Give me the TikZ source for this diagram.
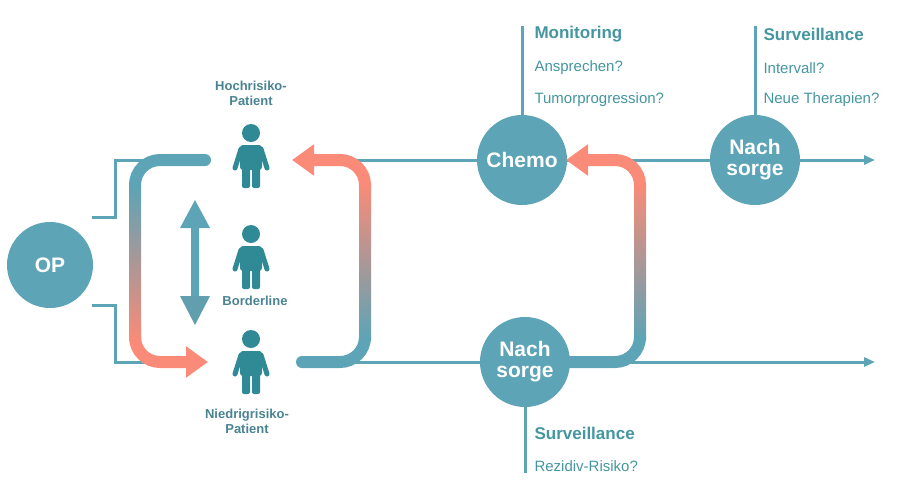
\documentclass[tikz,border=0pt]{standalone}
\usepackage{fontspec}
\setmainfont{Liberation Sans}
\usetikzlibrary{arrows.meta}
\definecolor{cTeal}{HTML}{5CA4B6}
\definecolor{cDark}{HTML}{2F8A96}
\definecolor{cSalmon}{HTML}{F98B78}
\begin{document}
\begin{tikzpicture}[x=1pt,y=-1pt,
  stage/.style={circle, fill=cTeal, minimum size=90pt, inner sep=0pt,
    text=white, font=\fontsize{21}{23}\selectfont\bfseries, align=center},
  thin/.style={cTeal, line width=3pt},
  flow/.style={cTeal, line width=3pt, -{Triangle[length=11pt,width=9pt]}},
  thick/.style={line width=12pt, rounded corners=25pt},
  tip/.style={-{Triangle[length=22pt,width=30pt]}},
  head/.style={anchor=west, text=cDark!90, font=\fontsize{17}{19}\selectfont\bfseries},
  item/.style={anchor=west, text=cDark!90, font=\fontsize{15}{17}\selectfont},
  risk/.style={text=cTeal!80!black, font=\fontsize{13}{15}\selectfont\bfseries, align=center},
  person/.pic={
    \fill[cDark] (0,9) circle (9);
    \fill[cDark, rounded corners=3pt] (-11,21) rectangle (11,46);
    \fill[cDark, rounded corners=2pt] (-9,42) rectangle (-1,64);
    \fill[cDark, rounded corners=2pt] (1,42) rectangle (9,64);
    \draw[cDark, line width=5pt, line cap=round] (-10,25) -- (-16,44);
    \draw[cDark, line width=5pt, line cap=round] (10,25) -- (16,44);
  }]
\useasboundingbox (0,0) rectangle (912,490);

% stages
\node[stage, minimum size=86pt] (op) at (50,265) {OP};
\node[stage] (chemo) at (522,160) {Chemo};
\node[stage] (nach1) at (755,160) {Nach\\[-2pt]sorge};
\node[stage] (nach2) at (525,362) {Nach\\[-2pt]sorge};

% thin lines
\coordinate (top-l) at (115,160);
\coordinate (bot-l) at (115,362);
\coordinate (top-end) at (875,160);
\coordinate (bot-end) at (875,362);
\draw[thin] (92,217) -| (top-l) -- (200,160);
\draw[thin] (92,305) -| (bot-l) -- (200,362);
\draw[thin] (340,160) -- (chemo);
\draw[flow] (chemo) -- (nach1) -- (top-end);
\draw[thin] (300,362) -- (nach2);
\draw[flow] (nach2) -- (bot-end);
\foreach \c/\y in {chemo/26, nach1/26} {
  \draw[thin] (\c.north) -- (\c.north |- 0,\y);
}
\draw[thin] (nach2.south) -- (nach2.south |- 0,473);

% texts
\node[head] at (531,34) {Monitoring};
\node[item] at (531,68) {Ansprechen?};
\node[item] at (531,100) {Tumorprogression?};
\node[head] at (760,34) {Surveillance};
\node[item] at (760,68) {Intervall?};
\node[item] at (760,100) {Neue Therapien?};
\node[head] at (531,433) {Surveillance};
\node[item] at (531,466) {Rezidiv-Risiko?};

% patients
\pic at (251,124) {person};
\pic at (251,225) {person};
\pic at (251,330) {person};
\node[risk] at (251,93) {Hochrisiko-\\Patient};
\node[risk] at (255,301) {Borderline};
\node[risk] at (247,421) {Niedrigrisiko-\\Patient};

% left bracket
\draw[thick, cTeal, line cap=round] (205,160) -| (135,186);
\shade[top color=cTeal, bottom color=cSalmon] (129,185) rectangle (141,340);
\draw[thick, cSalmon, tip] (135,339) |- (208,362);

% double arrow
\shade[top color=cTeal, middle color=cSalmon, bottom color=cTeal] (191,226) rectangle (199,298);
\fill[cTeal] (180,228) -- (195,200) -- (210,228) -- cycle;
\fill[cTeal!85!gray] (180,296) -- (195,325) -- (210,296) -- cycle;

% right bracket
\draw[thick, cSalmon, tip] (365,186) |- (292,160);
\shade[top color=cSalmon, bottom color=cTeal] (359,185) rectangle (371,340);
\draw[thick, cTeal, line cap=round] (302,362) -| (365,339);

% chemo bracket
\draw[thick, cSalmon, tip] (640,186) |- (566,160);
\shade[top color=cSalmon, bottom color=cTeal] (634,185) rectangle (646,340);
\draw[thick, cTeal] (568,362) -| (640,339);
\end{tikzpicture}
\end{document}
